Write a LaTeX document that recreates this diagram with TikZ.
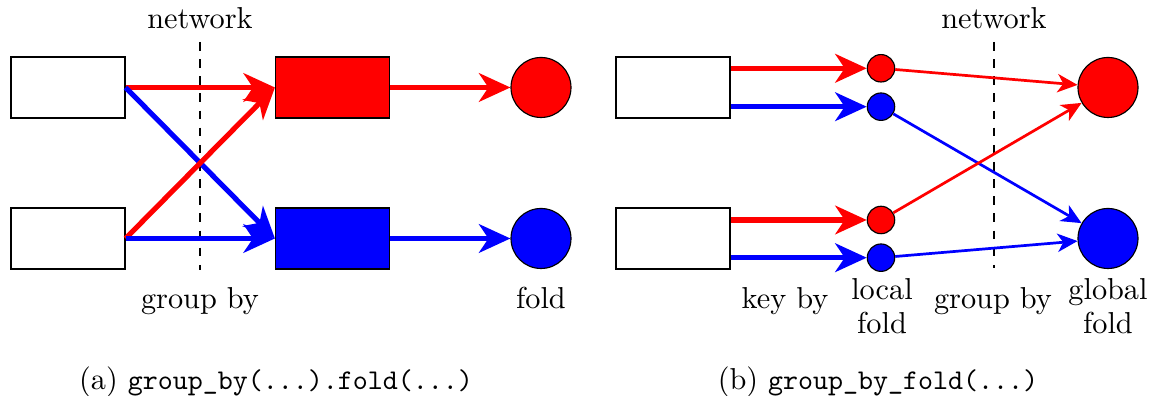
\documentclass[tikz,border=0pt]{standalone}
\usetikzlibrary{arrows.meta}

\newcommand{\codetext}[1]{{\fontsize{10pt}{12pt}\selectfont\texttt{#1}}}

\begin{document}
\begin{tikzpicture}[x=0.35pt, y=-0.35pt,
  srcbox/.style={draw=black, fill=white, line width=0.4pt,
    minimum width=39.9pt, minimum height=21.35pt, inner sep=0pt},
  grpbox/.style={srcbox, fill=#1},
  bigdot/.style={circle, draw=black, fill=#1, line width=0.4pt,
    minimum size=21pt, inner sep=0pt},
  smalldot/.style={circle, draw=black, fill=#1, line width=0.4pt,
    minimum size=9.6pt, inner sep=0pt},
  fatarrow/.style={draw=#1, line width=1.8pt,
    -{Stealth[length=11pt, width=10pt, inset=3.3pt]}},
  slimarrow/.style={draw=#1, line width=0.95pt,
    -{Stealth[length=7pt, width=6.4pt, inset=2pt]}},
  netline/.style={draw=black, line width=0.4pt, dashed},
  lbl/.style={inner sep=0pt, anchor=base, font=\fontsize{10.6pt}{12pt}\selectfont},
  twolbl/.style={inner sep=0pt, anchor=center, align=center,
    font=\fontsize{10.6pt}{12pt}\selectfont},
]
\useasboundingbox (0,0) rectangle (1155,396);

% ---------- (a) group_by(...).fold(...) ----------
\node[srcbox] (a1) at (68,87.5) {};
\node[srcbox] (a2) at (68,238.5) {};
\node[grpbox=red]  (ar) at (332.5,87.5) {};
\node[grpbox=blue] (ab) at (332.5,238.5) {};
\node[bigdot=red]  (afr) at (541,87.5) {};
\node[bigdot=blue] (afb) at (541,238.5) {};

\coordinate (anet1) at (200,42);
\coordinate (anet2) at (200,270);
\draw[netline] (anet1) -- (anet2);

\draw[fatarrow=red]  (a1.east) -- (ar.west);
\draw[fatarrow=blue] (a1.east) -- (ab.west);
\draw[fatarrow=red]  (a2.east) -- (ar.west);
\draw[fatarrow=blue] (a2.east) -- (ab.west);
\draw[fatarrow=red]  (ar.east) -- (afr.west);
\draw[fatarrow=blue] (ab.east) -- (afb.west);

\node[lbl] (anetlbl) at (200,29) {network};
\node[lbl] (agroup) at (200,309) {group by};
\node[lbl] (afold) at (541,309) {fold};
\node[lbl] (acap) at (276,390) {(a) \codetext{group\_by(...).fold(...)}};

% ---------- (b) group_by_fold(...) ----------
\node[srcbox] (b1) at (673,87.5) {};
\node[srcbox] (b2) at (673,238.5) {};
\node[smalldot=red]  (l1r) at (881,68.3) {};
\node[smalldot=blue] (l1b) at (881,106.7) {};
\node[smalldot=red]  (l2r) at (881,220) {};
\node[smalldot=blue] (l2b) at (881,257.7) {};
\node[bigdot=red]  (gr) at (1108,87.5) {};
\node[bigdot=blue] (gb) at (1108,238.5) {};

\coordinate (bnet1) at (994,42);
\coordinate (bnet2) at (994,268);
\draw[netline] (bnet1) -- (bnet2);

\draw[fatarrow=red]  (b1.east |- l1r) -- (l1r.west);
\draw[fatarrow=blue] (b1.east |- l1b) -- (l1b.west);
\draw[fatarrow=red]  (b2.east |- l2r) -- (l2r.west);
\draw[fatarrow=blue] (b2.east |- l2b) -- (l2b.west);

\draw[slimarrow=red]  (l1r) -- (gr);
\draw[slimarrow=blue] (l1b) -- (gb);
\draw[slimarrow=red]  (l2r) -- (gr);
\draw[slimarrow=blue] (l2b) -- (gb);

\node[lbl] (bnetlbl) at (994,29) {network};
\node[lbl] (bkey) at (785,309) {key by};
\node[twolbl] (blocal) at (882,306) {local\\fold};
\node[lbl] (bgroup) at (993,309) {group by};
\node[twolbl] (bglobal) at (1108,306) {global\\fold};
\node[lbl] (bcap) at (878,390) {(b) \codetext{group\_by\_fold(...)}};
\end{tikzpicture}
\end{document}
